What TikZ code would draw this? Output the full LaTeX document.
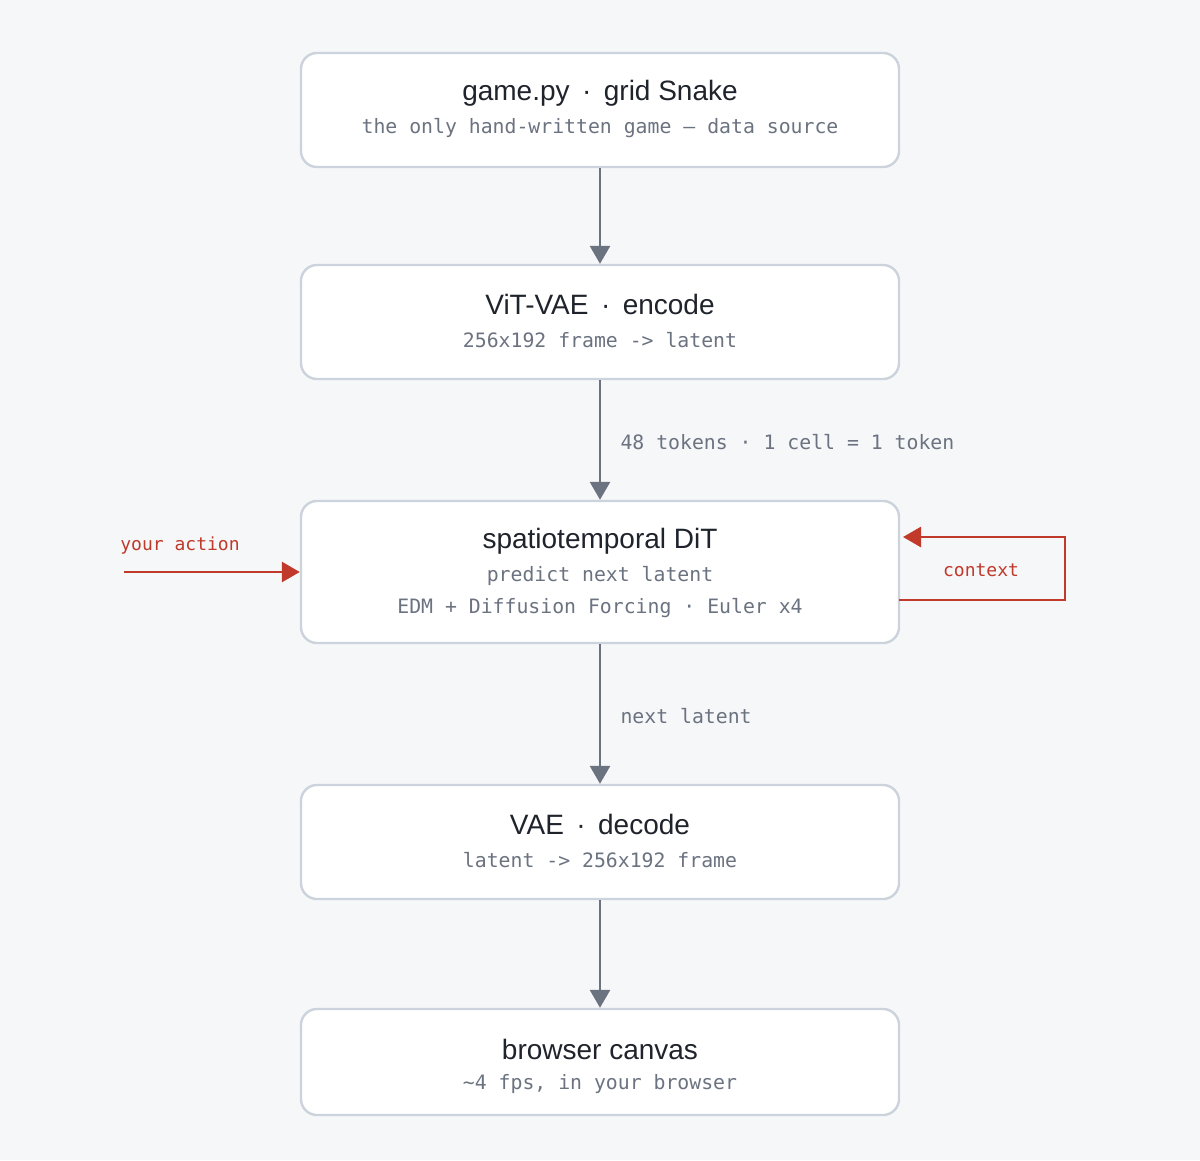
\documentclass[tikz,border=0pt]{standalone}
\usepackage{fontspec}
\setmainfont{Liberation Sans}
\setmonofont{DejaVu Sans Mono}
\usetikzlibrary{arrows.meta}

\definecolor{pagebg}{HTML}{F6F7F9}
\definecolor{edgegray}{HTML}{CDD3DC}
\definecolor{titleink}{HTML}{1F232B}
\definecolor{subink}{HTML}{6B7280}
\definecolor{flowred}{HTML}{C0392B}

\tikzset{
  stage/.style={draw=edgegray, line width=2.4pt, fill=white, rounded corners=16pt,
    minimum width=598pt, inner sep=0pt},
  title/.style={text=titleink, font=\fontsize{28}{34}\selectfont},
  sub/.style={text=subink, font=\ttfamily\fontsize{19.8}{24}\selectfont},
  note/.style={text=subink, font=\ttfamily\fontsize{19.8}{24}\selectfont, anchor=west},
  flow/.style={draw=subink, line width=2.8pt, -{Triangle[width=20pt,length=18pt]}},
  feed/.style={draw=flowred, line width=2.8pt, -{Triangle[width=20pt,length=18pt]}},
  rednote/.style={text=flowred, font=\ttfamily\fontsize{18}{22}\selectfont}
}

\begin{document}
\begin{tikzpicture}[x=1pt,y=-1pt]
  \fill[pagebg] (0,0) rectangle (1200,1160);
  \useasboundingbox (0,0) rectangle (1200,1160);

  % stages
  \node[stage, minimum height=114pt] (game) at (600,110) {};
  \node[stage, minimum height=114pt] (enc) at (600,322) {};
  \node[stage, minimum height=142pt] (dit) at (600,572) {};
  \node[stage, minimum height=114pt] (dec) at (600,842) {};
  \node[stage, minimum height=106pt] (canvas) at (600,1062) {};

  \node[title] (gameT) at (600,93) {game.py \,·\, grid Snake};
  \node[sub] (gameS) at (600,128) {the only hand-written game — data source};
  \node[title] (encT) at (600,304) {ViT-VAE \,·\, encode};
  \node[sub] (encS) at (600,340) {256x192 frame -> latent};
  \node[title] (ditT) at (600,541) {spatiotemporal DiT};
  \node[sub] (ditS) at (600,576) {predict next latent};
  \node[sub] (ditE) at (600,608) {EDM + Diffusion Forcing · Euler x4};
  \node[title] (decT) at (600,824) {VAE \,·\, decode};
  \node[sub] (decS) at (600,860) {latent -> 256x192 frame};
  \node[title] (canvasT) at (600,1049) {browser canvas};
  \node[sub] (canvasS) at (600,1084) {\textasciitilde 4 fps, in your browser};

  % main flow
  \draw[flow] (game) -- (enc);
  \draw[flow] (enc) -- (dit);
  \draw[flow] (dit) -- (dec);
  \draw[flow] (dec) -- (canvas);
  \node[note] (tok) at (617,442) {48 tokens · 1 cell = 1 token};
  \node[note] (nxt) at (617,716) {next latent};

  % action in, context loop
  \coordinate (actin) at (124,572);
  \node[rednote] (act) at (180,546) {your action};
  \draw[feed] (actin) -- (dit.west);
  \coordinate (ctxout) at (899,600);
  \coordinate (ctxin) at (903,537);
  \draw[feed] (ctxout) -- (1065,600) -- (1065,537) -- (ctxin);
  \node[rednote] (ctx) at (981,570) {context};
\end{tikzpicture}
\end{document}
